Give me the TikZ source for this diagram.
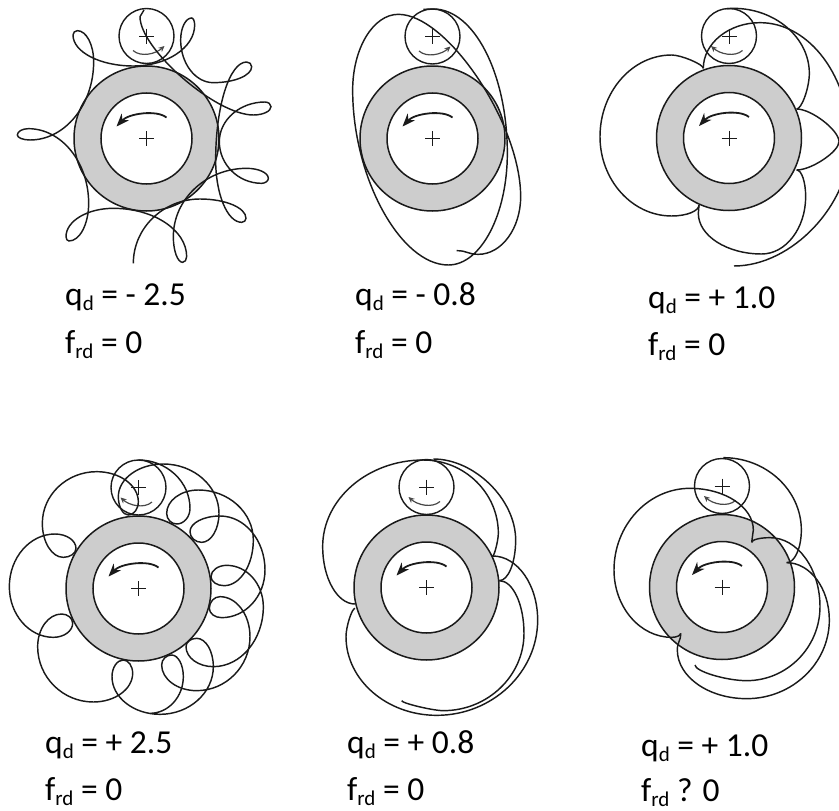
\documentclass[tikz,border=0pt]{standalone}
\usepackage{fontspec}
\setmainfont{Carlito}
\usetikzlibrary{arrows.meta,calc}
\definecolor{RingFill}{HTML}{CDCDCD}
\definecolor{Ink}{HTML}{1A1A1A}
\newcommand{\lowtxt}[1]{\lower5pt\hbox{\fontsize{21}{21}\selectfont #1}}
\tikzset{
  >=Stealth,
  ring/.style={circle,draw=Ink,line width=1.5pt,fill=RingFill,minimum size=145pt,inner sep=0pt},
  bore/.style={circle,draw=Ink,line width=1.5pt,fill=white,minimum size=91pt,inner sep=0pt},
  planet/.style={circle,draw=Ink,line width=1.4pt,fill=white,minimum size=55pt,inner sep=0pt},
  traj/.style={draw=Ink,line width=1.45pt},
  turn/.style={->,draw=Ink,line width=1.8pt,>={Stealth[length=13pt,width=10pt]}},
  spin/.style={->,draw=Ink!80,line width=1.2pt,>={Stealth[length=6pt,width=5.5pt]}},
  cross/.style={draw=Ink,line width=1pt},
  lab/.style={anchor=base west,inner sep=0pt,font=\fontsize{33.5}{33.5}\selectfont},
  traced/.style={x=.33333pt,y=-.33333pt},
  % curve pieces between turning points: h = level tangent, v = upright tangent
  hv/.style={to path={.. controls ($(\tikztostart)!#1!(\tikztotarget|-\tikztostart)$) and ($(\tikztotarget)!#1!(\tikztotarget|-\tikztostart)$) .. (\tikztotarget)}},
  hv/.default=.55,
  vh/.style={to path={.. controls ($(\tikztostart)!#1!(\tikztostart|-\tikztotarget)$) and ($(\tikztotarget)!#1!(\tikztostart|-\tikztotarget)$) .. (\tikztotarget)}},
  vh/.default=.55,
  hh/.style={to path={.. controls ($(\tikztostart)!.5!(\tikztotarget|-\tikztostart)$) and ($(\tikztotarget)!.5!(\tikztostart|-\tikztotarget)$) .. (\tikztotarget)}},
  vv/.style={to path={.. controls ($(\tikztostart)!.5!(\tikztostart|-\tikztotarget)$) and ($(\tikztotarget)!.5!(\tikztotarget|-\tikztostart)$) .. (\tikztotarget)}}
}
\begin{document}
\begin{tikzpicture}[x=1pt,y=-1pt]
  \useasboundingbox (0,0) rectangle (839,811);
  % hubs: name / hub x / hub y / planet y / sense of the planet arrow
  \foreach \n/\x/\y/\py/\s in {a/146.5/138.5/36/1,b/432.5/138.5/36.5/1,c/729/138/36/-1,
                               d/138.5/588.5/487.5/-1,e/426.5/587.5/487/-1,f/722/587/486/-1}{
    \node[ring] (ring\n) at (\x,\y) {};
    \node[bore] (bore\n) at (\x,\y) {};
    \node[planet] (planet\n) at (\x,\py) {};
    \draw[cross] ($(bore\n)+(-7.5,0)$) -- ($(bore\n)+(7.5,0)$) ($(bore\n)+(0,-7.5)$) -- ($(bore\n)+(0,7.5)$);
    \draw[cross] ($(planet\n)+(-7.5,0)$) -- ($(planet\n)+(7.5,0)$) ($(planet\n)+(0,-7.5)$) -- ($(planet\n)+(0,7.5)$);
    \draw[turn] ($(bore\n)+(20,-21)$) .. controls +(-10,-8) and +(12,-13) .. ($(bore\n)+(-30,-12)$);
    \draw[spin] ($(planet\n)+(-13.5*\s,14.5)$) .. controls +(8*\s,7) and +(-9*\s,8) .. ($(planet\n)+(18*\s,10)$);
  }
  % q = -2.5
  \begin{scope}[traced]
    \draw[traj] (400,790) to[vh] (600,597) to[hv] (738,655) to[vh] (725,667) to[hv] (647,480) to[vh] (740,186) to[hv] (755,200) to[vh] (640,248) to[hv] (542,120) to[vh] (575,54) to[hv] (584,75) to[vh] (400,198) to[hv] (219,105) to[vh] (232,92) to[hv] (281,185) to[vh] (90,420) to[hv] (52,405) to[vh] (85,386) to[hv] (266,610) to[vh] (207,723) to[hv] (198,710) to[vh] (340,625) to[hv] (560,770) to[vh] (548,787) to[hv] (520,710) to[vh] (740,505) to[hv] (805,535) to[vh] (785,550) to[hv] (658,425) to[vh] (795,306) to[hv] (813,320) to[vh] (760,345) to[hv=.33] (420,50) to[vv] (432,30);
  \end{scope}
  % q = -0.8
  \begin{scope}[shift={(290,0)},traced]
    \draw[traj] (500,752) to[hh] (565,763) to[hv] (692,590) to[vh=.4] (325,43) to[hv] (188,270) to[vh=.5] (475,795) to[hv] (652,460) to[vh] (430,27) to[hh] (400,28);
  \end{scope}
  % q = +1.0
  \begin{scope}[shift={(570,0)},traced]
    \draw[traj] (492,798) to[hv=.5] (840,430) to[vh] (570,68) to[hv] (400,205);
    \draw[traj] (400,205) to[vh=.3] (305,165) to[hv] (90,410) to[vh] (305,648) to[hv] (387,615);
    \draw[traj] (387,615) to[vv] (385,640) to[vh] (575,762) to[hv] (707,590) to[vh] (680,510);
    \draw[traj] (680,510) to[hv=.35] (807,425);
    \draw[traj] (807,425) to[vh=.35] (680,327);
    \draw[traj] (680,327) to[hv=.4] (718,220) to[vh] (490,25) to[hh] (470,26);
  \end{scope}
  % q = +2.5
  \begin{scope}[shift={(0,420)},traced]
    \draw[traj] (415,120) to[hv] (570,265) to[vh] (530,312) to[hv] (500,280) to[vh] (595,210) to[hv] (760,360) to[vh] (672,497) to[hv] (633,470) to[vh] (680,436) to[hv] (790,560) to[vh] (640,740) to[hv] (558,680) to[vh] (590,655) to[hv] (640,740) to[vh] (480,883) to[hv] (336,770) to[vh] (370,720) to[hv] (398,760) to[vh] (280,846) to[hv] (113,680) to[vh] (185,582) to[hv] (218,610) to[vh] (160,652) to[hv] (28,500) to[vh] (165,342) to[hv] (228,385) to[vh] (190,412) to[hv] (127,310) to[vh] (290,155) to[hv] (415,245) to[vh] (385,285) to[hv] (355,230) to[vh] (490,132) to[hv] (657,280) to[vh] (605,367) to[hv] (570,335) to[vh] (660,288) to[hv] (795,450) to[vh] (665,593) to[hv] (628,565) to[vh] (660,530) to[hv] (750,650) to[vh] (590,812) to[hv] (485,735) to[vh] (515,705) to[hv] (550,770) to[vh] (450,880);
  \end{scope}
  % q = +0.8
  \begin{scope}[shift={(300,420)},traced]
    \draw[traj] (305,842) to[vh=.25] (430,872) to[hv] (672,640) to[vh] (598,482);
    \draw[traj] (598,482) to[hv] (647,360) to[vh=.5] (400,117);
    \draw[traj] (165,552) to[hv] (68,380) to[vh] (370,120) to[hv] (595,340) to[vh=.3] (578,408);
    \draw[traj] (578,408) to[hv] (713,600) to[vh] (410,886) to[hv] (138,650) to[vh=.35] (165,565);
  \end{scope}
  % q = +1.0, with friction
  \begin{scope}[shift={(590,420)},traced]
    \draw[traj] (315,735) to[vh=.4] (470,782) to[hv] (690,560) to[vh] (540,353) to[hv] (485,367);
    \draw[traj] (485,367) to[vv] (490,330) to[vh] (300,205) to[hv] (72,450) to[vh] (245,652) to[hv] (272,640);
    \draw[traj] (272,640) to[vv] (262,690) to[vh] (470,836) to[hv] (718,600) to[vh] (590,428);
    \draw[traj] (590,428) to[hv] (634,330) to[vh] (400,113);
  \end{scope}
  % labels
  \node[lab] (qa) at (65,305) {q\lowtxt{d} = - 2.5};
  \node[lab] (fa) at (65,353) {f\lowtxt{rd} = 0};
  \node[lab] (qb) at (355,305) {q\lowtxt{d} = - 0.8};
  \node[lab] (fb) at (355,353) {f\lowtxt{rd} = 0};
  \node[lab] (qc) at (648,308) {q\lowtxt{d} = + 1.0};
  \node[lab] (fc) at (648,355) {f\lowtxt{rd} = 0};
  \node[lab] (qd) at (45,753) {q\lowtxt{d} = + 2.5};
  \node[lab] (fd) at (45,800) {f\lowtxt{rd} = 0};
  \node[lab] (qe) at (347,753) {q\lowtxt{d} = + 0.8};
  \node[lab] (fe) at (347,800) {f\lowtxt{rd} = 0};
  \node[lab] (qf) at (641,756) {q\lowtxt{d} = + 1.0};
  \node[lab] (ff) at (641,801.5) {f\lowtxt{rd} ? 0};
\end{tikzpicture}
\end{document}
